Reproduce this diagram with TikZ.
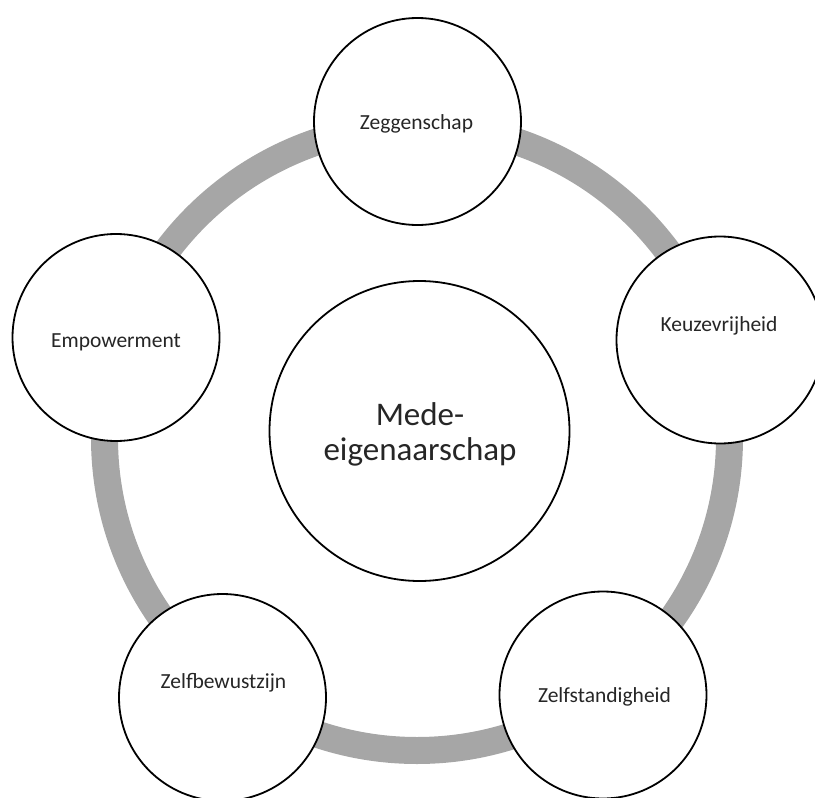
\documentclass[tikz,border=0pt]{standalone}
\usepackage{fontspec}
\setmainfont{Carlito}
\definecolor{ringgray}{HTML}{A6A6A6}
\definecolor{txtgray}{HTML}{262626}
\tikzset{
  smallcirc/.style={circle, draw=black, line width=1.8pt, fill=white, minimum size=207pt, inner sep=0pt},
  bigcirc/.style={circle, draw=black, line width=1.8pt, fill=white, minimum size=300pt, inner sep=0pt},
  smalllabel/.style={anchor=base, inner sep=0pt, text=txtgray, font=\fontsize{21.5pt}{24pt}\selectfont},
  biglabel/.style={anchor=base, inner sep=0pt, align=center, text=txtgray, font=\fontsize{33pt}{35pt}\selectfont},
  ringline/.style={draw=ringgray, line width=27pt}
}
\begin{document}
\begin{tikzpicture}[x=1pt,y=-1pt]
\useasboundingbox (0,0) rectangle (815,798);
\coordinate (ringc) at (417,438);
\draw[ringline] (ringc) circle[radius=312.5pt];
\node[smallcirc] (zeg) at (417.5,121.5) {};
\node[smallcirc] (keu) at (720,340) {};
\node[smallcirc] (emp) at (116,337.5) {};
\node[smallcirc] (zbw) at (222.5,697.5) {};
\node[smallcirc] (zst) at (603,695) {};
\node[bigcirc] (mid) at (419.5,431) {};
\node[smalllabel] (zegt) at (416.5,129) {Zeggenschap};
\node[smalllabel] (keut) at (719,331) {Keuzevrijheid};
\node[smalllabel] (empt) at (116,347) {Empowerment};
\node[smalllabel] (zbwt) at (223.5,688) {Zelfbewustzijn};
\node[smalllabel] (zstt) at (604.5,702) {Zelfstandigheid};
\node[biglabel] (midt) at (420,460) {Mede-\\eigenaarschap};
\end{tikzpicture}
\end{document}
